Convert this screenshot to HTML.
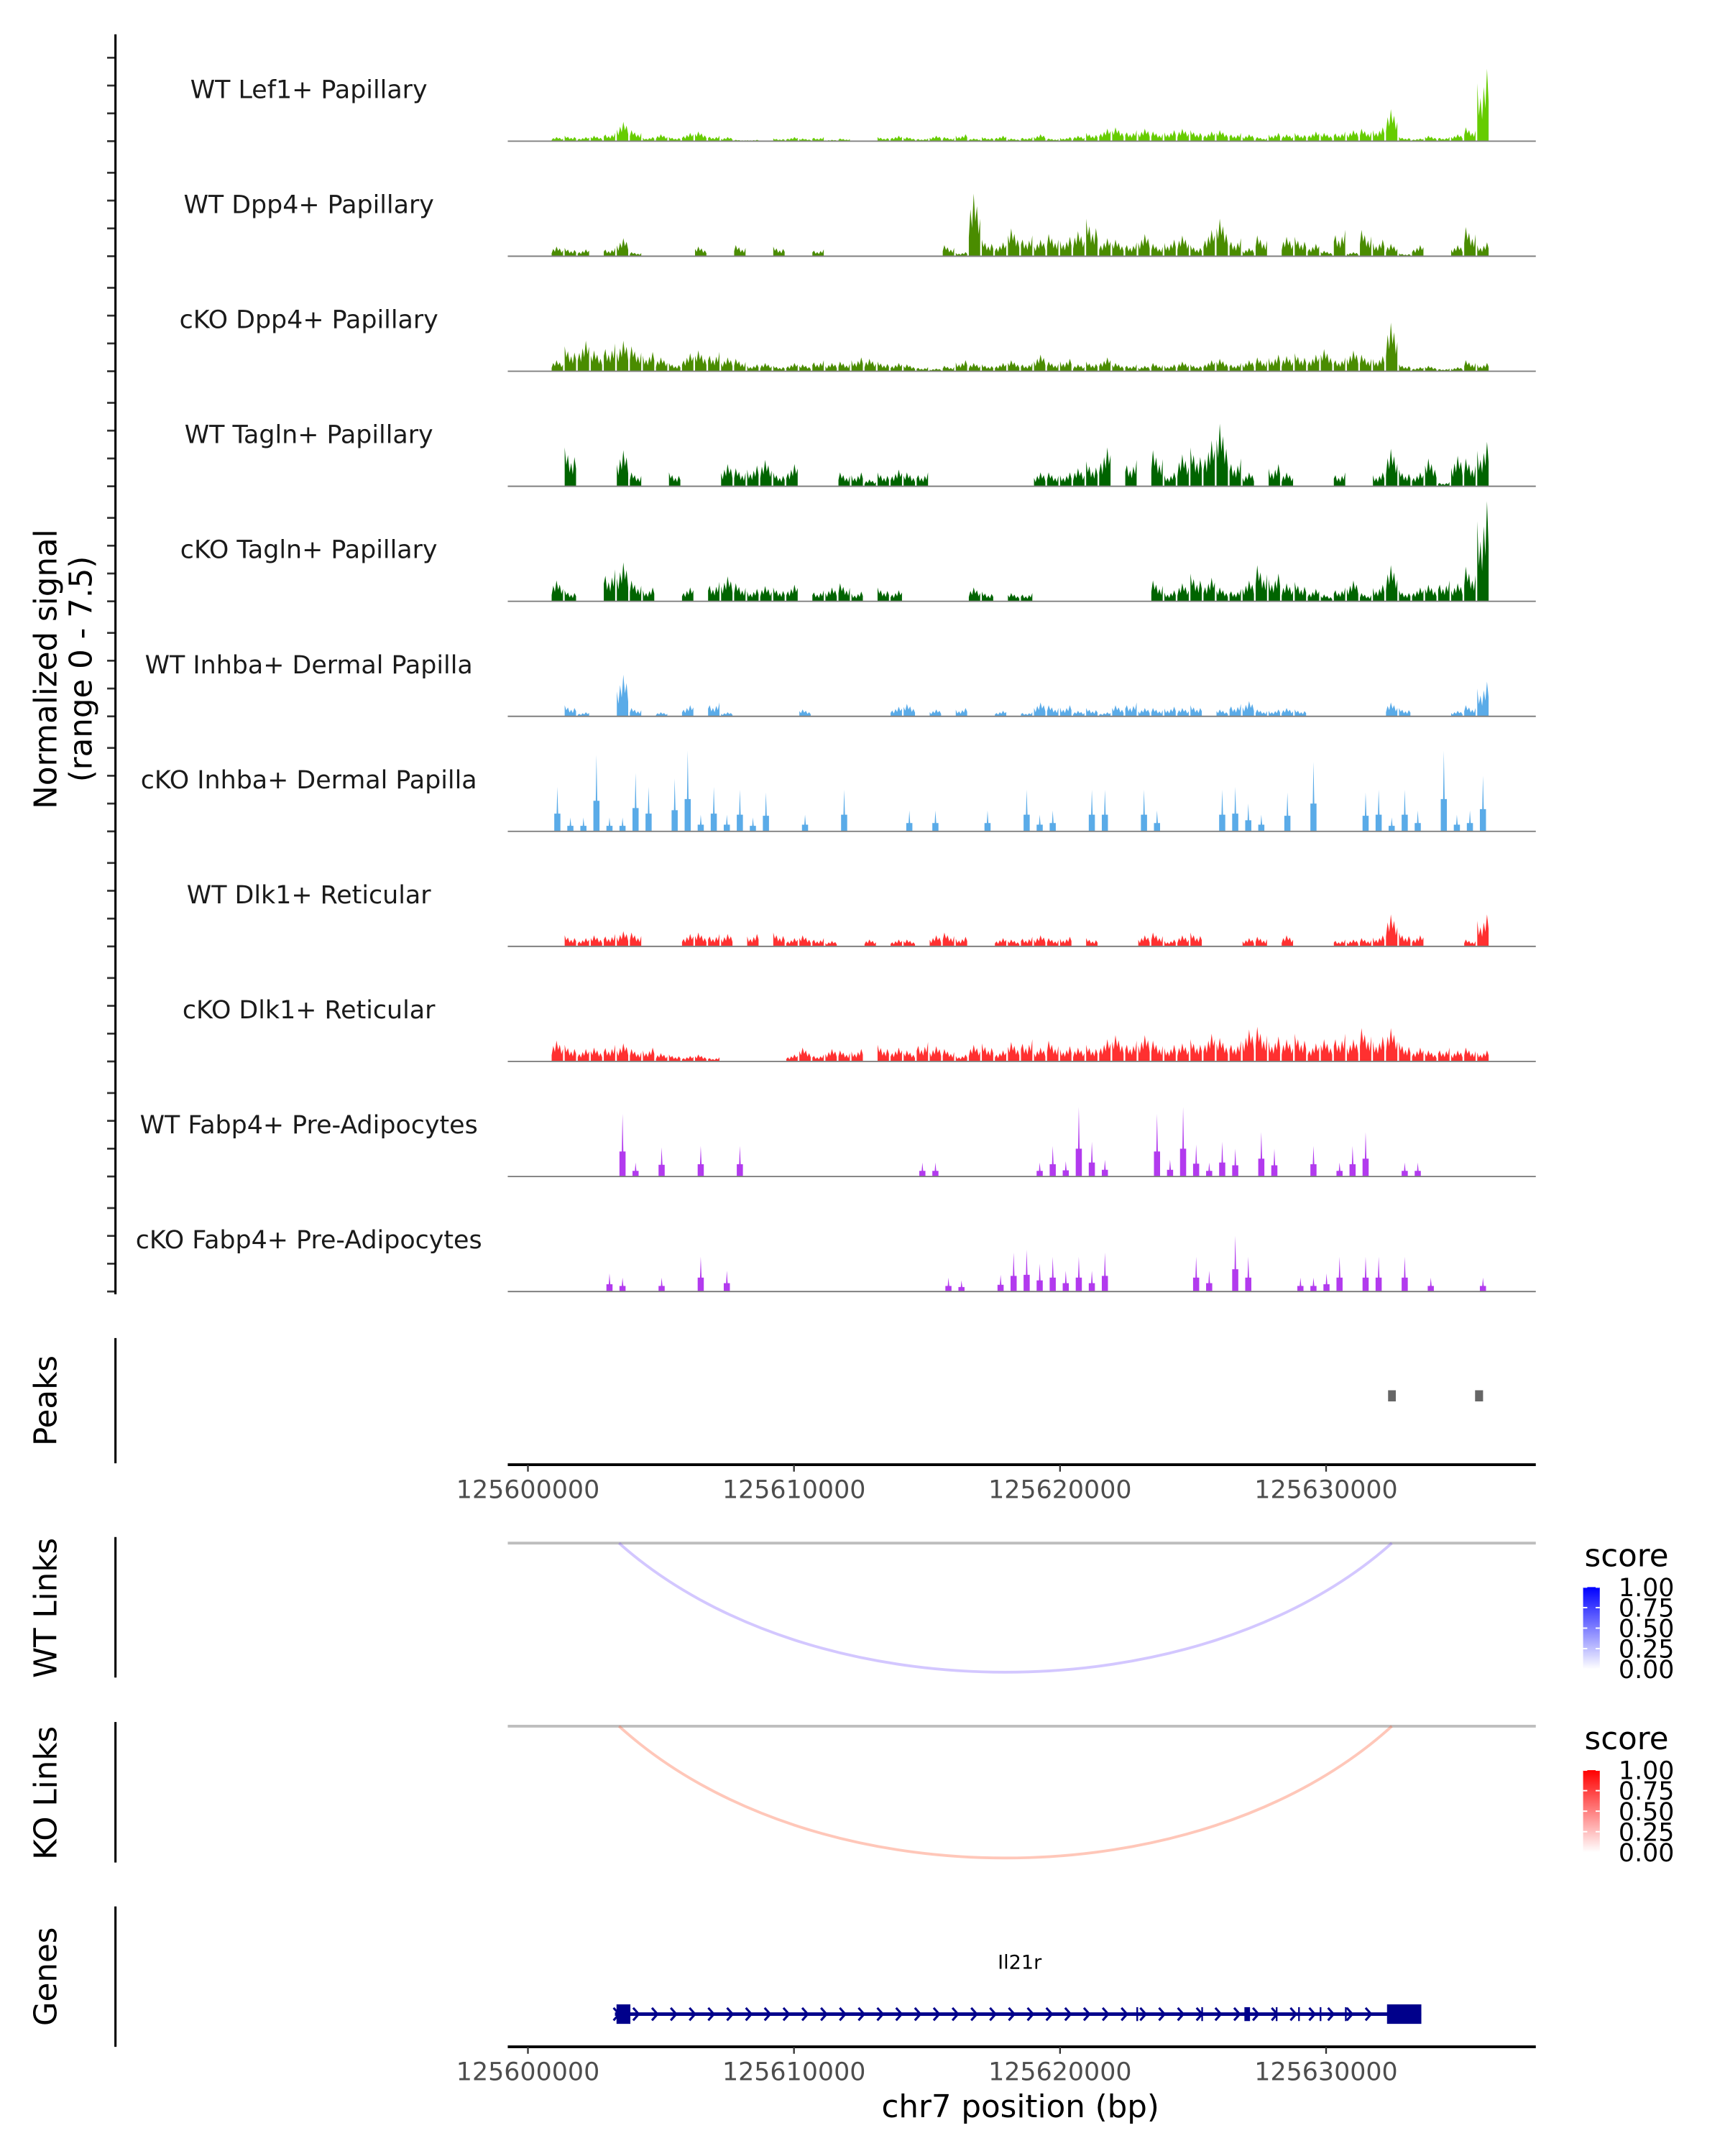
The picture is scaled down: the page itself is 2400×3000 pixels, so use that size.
<!DOCTYPE html>
<html><head><meta charset="utf-8"><style>
html,body{margin:0;padding:0;background:#fff}
svg{display:block}
text{font-family:"DejaVu Sans","Liberation Sans",sans-serif}
</style></head><body>
<svg id="fig" width="2400" height="3000" viewBox="0 0 1240 1550" xmlns="http://www.w3.org/2000/svg">
<defs>
<linearGradient id="gblue" x1="0" y1="1" x2="0" y2="0"><stop offset="0" stop-color="#ffffff"/><stop offset="1" stop-color="#0000ff"/></linearGradient>
<linearGradient id="gred" x1="0" y1="1" x2="0" y2="0"><stop offset="0" stop-color="#ffffff"/><stop offset="1" stop-color="#ff0000"/></linearGradient>
</defs>
<g id="tracks"></g>
<g id="static">
<text transform="translate(40.5,481) rotate(-90)" text-anchor="middle" font-size="22.5" fill="#000">Normalized signal</text>
<text transform="translate(66,481) rotate(-90)" text-anchor="middle" font-size="22.5" fill="#000">(range 0 - 7.5)</text>
<line x1="83" y1="24.7" x2="83" y2="930.5" stroke="#000" stroke-width="1.6"/>
<text transform="translate(40.5,1007) rotate(-90)" text-anchor="middle" font-size="22.5">Peaks</text>
<line x1="83" y1="962" x2="83" y2="1052" stroke="#000" stroke-width="1.6"/>
<text transform="translate(40.5,1156) rotate(-90)" text-anchor="middle" font-size="22.5">WT Links</text>
<line x1="83" y1="1105" x2="83" y2="1206" stroke="#000" stroke-width="1.6"/>
<text transform="translate(40.5,1289) rotate(-90)" text-anchor="middle" font-size="22.5">KO Links</text>
<line x1="83" y1="1238" x2="83" y2="1339" stroke="#000" stroke-width="1.6"/>
<text transform="translate(40.5,1421) rotate(-90)" text-anchor="middle" font-size="22.5">Genes</text>
<line x1="83" y1="1370.6" x2="83" y2="1471.5" stroke="#000" stroke-width="1.6"/>
<line x1="365" y1="1109.4" x2="1104" y2="1109.4" stroke="#bebebe" stroke-width="2"/>
<line x1="365" y1="1241" x2="1104" y2="1241" stroke="#bebebe" stroke-width="2"/>
<text x="1139" y="1126" font-size="22.5">score</text>
<rect x="1138" y="1141" width="12" height="59" fill="url(#gblue)"/>
<text x="1139" y="1257.6" font-size="22.5">score</text>
<rect x="1138" y="1272.6" width="12" height="59" fill="url(#gred)"/>
<text x="733" y="1415.5" text-anchor="middle" font-size="14">Il21r</text>
<text x="733.5" y="1522" text-anchor="middle" font-size="22.5">chr7 position (bp)</text>
</g>
</svg>
<script>
const trackNames = ["WT Lef1+ Papillary","WT Dpp4+ Papillary","cKO Dpp4+ Papillary","WT Tagln+ Papillary","cKO Tagln+ Papillary","WT Inhba+ Dermal Papilla","cKO Inhba+ Dermal Papilla","WT Dlk1+ Reticular","cKO Dlk1+ Reticular","WT Fabp4+ Pre-Adipocytes","cKO Fabp4+ Pre-Adipocytes"];
const trackColors = ["#66cc00","#4a8c00","#4a8c00","#006400","#006400","#5aabe8","#5aabe8","#ff3030","#ff3030","#b23aee","#b23aee"];
const binStart = 125600860;
const binSize = 490;
const yTickValues = [0,2,4,6];
const sigLef1 = [0.3,0.4,0.3,0.4,0.6,1.4,0.8,0.3,0.5,0.3,0.6,0.7,0.4,0.3,0.1,0.1,0,0.2,0.3,0.2,0.3,0.1,0.2,0,0,0.3,0.4,0.3,0.2,0.4,0.3,0.5,0.2,0.3,0.4,0.2,0.3,0.5,0.2,0.3,0.4,0.6,0.9,1.0,0.8,0.9,0.7,0.8,0.9,0.8,0.7,0.8,0.6,0.5,0.3,0.6,0.5,0.6,0.7,0.6,0.7,0.8,0.9,1.0,2.3,0.3,0.2,0.4,0.3,0.5,1.0,5.2];
const sigWtDpp4 = [0.7,0.6,0.5,0,0.6,1.3,0.3,0,0,0,0,0.7,0,0,0.8,0,0,0.7,0,0,0.5,0,0,0,0,0,0,0,0,0,0.8,0.3,4.5,1.2,1.0,2.0,1.5,1.2,1.6,1.4,1.8,2.7,1.3,1.2,1.0,1.6,0.9,1.2,1.5,0.8,1.9,2.7,1.3,0.6,1.5,0,1.4,1.4,0.9,0.4,1.9,0.3,1.9,1.2,0.9,0.2,0.8,0,0,0.8,2.1,1.0];
const sigKoDpp4 = [0.8,1.8,2.2,1.5,2.0,2.2,1.8,1.4,1.0,0.6,1.3,1.5,1.4,1.0,0.9,0.5,0.6,0.4,0.6,0.5,0.8,0.6,0.7,1.0,0.9,0.7,0.6,0.5,0.3,0.2,0.4,0.8,0.6,0.5,0.6,0.8,0.6,1.2,0.7,0.9,0.5,0.7,1.0,0.6,0.5,0.4,0.6,0.5,0.7,0.5,0.8,0.9,0.6,0.8,1.0,1.2,1.1,1.3,1.2,1.6,1.0,1.5,1.2,1.1,3.5,0.5,0.3,0.4,0.2,0.3,0.8,0.6];
const sigWtTagln = [0,2.8,0,0,0,2.6,1.0,0,0,1.0,0,0,0,1.6,1.3,1.5,1.9,1.0,1.6,0,0,0,1.0,1.0,0.5,1.0,1.2,1.0,1.0,0,0,0,0,0,0,0,0,1.0,1.0,1.0,1.3,1.8,2.8,0,1.9,0,2.6,1.0,2.3,2.8,3.3,4.5,2.0,1.0,0,1.6,1.0,0,0,0,1.0,0,0,1.0,2.7,1.2,1.0,2.0,0.3,2.2,2.0,3.2];
const sigKoTagln = [1.5,0.8,0,0,2.3,2.8,1.5,1.0,0,0,1.0,0,1.4,1.8,1.3,0.9,1.1,1.0,1.2,0,0.8,1.0,1.3,0.7,0,1.0,0.8,0,0,0,0,0,1.0,0.7,0,0.6,0.6,0,0,0,0,0,0,0,0,0,1.5,0.8,1.3,2.0,1.7,1.0,0.9,1.5,2.6,2.0,1.3,1.4,0.9,0.5,1.0,1.5,0.6,1.2,2.6,0.8,1.0,1.2,1.5,1.3,2.5,7.2];
const sigWtInhba = [0,0.8,0.3,0,0,3.0,0.6,0,0.3,0,0.8,0,1.0,0.3,0,0,0,0,0,0.5,0,0,0,0,0,0,0.7,0.9,0,0.5,0,0.6,0,0,0.4,0,0.3,1.0,0.8,0.8,0.4,0.6,0.3,0.8,1.0,0.6,0.6,0.7,0.6,0.8,0,0.5,0.9,1.1,0.5,0.5,0.6,0.5,0,0,0,0,0,0,1.0,0.6,0,0,0,0.4,0.8,2.5];
const sigKoInhba = [3.2,1.0,1.0,5.5,1.0,1.0,4.2,3.2,0,3.8,5.8,1.2,3.2,1.2,3.0,1.0,2.8,0,0,1.2,0,0,3.0,0,0,0,0,1.5,0,1.5,0,0,0,1.5,0,0,3.0,1.2,1.5,0,0,3.0,3.0,0,0,3.0,1.5,0,0,0,0,3.0,3.2,2.0,1.2,0,2.8,0,5.0,0,0,0,2.8,3.0,1.0,3.0,1.5,0,5.8,1.2,1.5,4.0];
const sigWtDlk1 = [0,0.8,0.6,0.8,0.9,1.1,1.0,0,0,0,0.9,1.0,0.9,0.9,0,0.9,0,1.0,0.6,0.8,0.6,0.4,0,0,0.5,0,0.5,0.5,0,0.8,1.0,0.7,0,0,0.6,0.5,0.7,0.8,0.6,0.7,0,0.6,0,0,0,0.8,1.0,0.5,0.8,1.0,0,0,0,0.6,0.7,0,0.8,0,0,0,0.5,0.5,0.6,0.8,2.3,1.0,0.8,0,0,0,0.5,2.3];
const sigKoDlk1 = [1.5,1.2,0.9,1.0,1.2,1.3,0.9,1.0,0.6,0.5,0.4,0.5,0.3,0,0,0,0,0,0.5,1.0,0.5,0.9,0.8,0.9,0,1.2,1.0,0.8,1.4,1.1,0.9,0.5,1.2,1.3,0.8,1.4,1.6,1.0,1.5,1.1,1.0,1.2,1.6,1.9,1.5,1.9,1.5,1.2,1.3,1.6,2.0,1.7,1.5,2.3,2.5,1.8,1.6,2.0,1.3,1.6,2.0,1.6,2.4,1.8,2.4,1.4,1.0,0.8,1.0,0.8,1.0,0.8];
const sigWtFabp4 = [0,0,0,0,0,4.5,1.0,0,2.1,0,0,2.2,0,0,2.2,0,0,0,0,0,0,0,0,0,0,0,0,0,1.0,1.0,0,0,0,0,0,0,0,1.0,2.2,1.1,5.0,2.5,1.2,0,0,0,4.5,1.2,5.0,2.3,1.0,2.5,2.0,0,3.2,2.0,0,0,2.2,0,1.0,2.2,3.2,0,0,1.0,1.0,0,0,0,0,0];
const sigKoFabp4 = [0,0,0,0,1.3,1.0,0,0,1.0,0,0,2.5,0,1.5,0,0,0,0,0,0,0,0,0,0,0,0,0,0,0,0,1.0,0.8,0,0,1.2,2.8,3.0,2.0,2.5,1.5,2.5,1.5,2.8,0,0,0,0,0,0,2.5,1.5,0,4.0,2.5,0,0,0,1.0,1.0,1.3,2.5,0,2.5,2.5,0,2.5,0,1.0,0,0,0,1.0];
const allSignals = [sigLef1,sigWtDpp4,sigKoDpp4,sigWtTagln,sigKoTagln,sigWtInhba,sigKoInhba,sigWtDlk1,sigKoDlk1,sigWtFabp4,sigKoFabp4];
const xTicks = [125600000,125610000,125620000,125630000];
const xTickLabels = ["125600000","125610000","125620000","125630000"];
const peakStarts = [125632330,125635600];
const peakEnds = [125632620,125635900];
const wtLinkStart = [125603425];
const wtLinkEnd = [125632470];
const wtLinkScore = [0.18];
const koLinkStart = [125603425];
const koLinkEnd = [125632470];
const koLinkScore = [0.22];
const legendTicks = [1.00,0.75,0.50,0.25,0.00];
const legendLabels = ["1.00","0.75","0.50","0.25","0.00"];
const geneStart = 125603270;
const geneEnd = 125633580;
const exonStarts = [125603330,125622870,125625310,125626930,125628110,125628950,125629760,125630710,125632290];
const exonEnds = [125603850,125622920,125625360,125627140,125628160,125629000,125629810,125630760,125633580];

const NS="http://www.w3.org/2000/svg";
const svg=document.getElementById('fig');
const tg=document.getElementById('tracks');
function xs(bp){return 379.5+(bp-125600000)*0.019125;}
const pxPerUnit=10, baseline0=101.5, trackGap=82.7;
function ys(v,base){return base-v*pxPerUnit;}
function mk(tag,attrs,parent){const e=document.createElementNS(NS,tag);for(const k in attrs)e.setAttribute(k,attrs[k]);(parent||svg).appendChild(e);return e;}
const jag=[0.3,0.75,0.45,1,0.55,0.8,0.35,0.6];
const narrowTracks=[6,9,10];

allSignals.forEach((vals,ti)=>{
  const base=baseline0+ti*trackGap;
  const g=mk('g',{},tg);
  
  
  yTickValues.forEach(v=>{
    const y=ys(v,base);
    const t=mk('line',{x1:77,x2:83,y1:y,y2:y,stroke:'#333','stroke-width':1.4},g);
    
    
  });
  const lab=mk('text',{x:222,y:base-31,'text-anchor':'middle','font-size':18,fill:'#1a1a1a'},g);
  lab.textContent=trackNames[ti];
  
  
  const narrow=narrowTracks.includes(ti);
  let d='';
  vals.forEach((v,i)=>{
    if(v<=0)return;
    let x0=xs(binStart+i*binSize), x1=xs(binStart+(i+1)*binSize);
    if(narrow){const c=(x0+x1)/2;x0=c-2.2;x1=c+2.2;
      d+=`M${x0},${base}L${x0},${ys(v*0.4,base)}L${c-0.5},${ys(v*0.4,base)}L${c},${ys(v,base)}L${c+0.6},${ys(v*0.4,base)}L${x1},${ys(v*0.4,base)}L${x1},${base}Z`;
      return;}
    x0+=0.6;x1-=0.6;
    const n=jag.length, w=(x1-x0)/(n-1);
    d+=`M${x0},${base}`;
    for(let k=0;k<n;k++){
      const f=jag[(k+i*3)%n];
      d+=`L${x0+k*w},${ys(v*f,base)}`;
    }
    d+=`L${x1},${base}Z`;
  });
  const p=mk('path',{d:d,fill:trackColors[ti]},g);
  
  
  const bl=mk('line',{x1:365,x2:1104,y1:base,y2:base,stroke:'#808080','stroke-width':1},g);
  
  
});

peakStarts.forEach((s,i)=>{
  const r=mk('rect',{x:xs(s),y:999.5,width:Math.max(3,xs(peakEnds[i])-xs(s)),height:8,fill:'#666'});
  
  
});

function xAxis(y,name){
  const g=mk('g',{});
  
  
  mk('line',{x1:365,x2:1104,y1:y,y2:y,stroke:'#000','stroke-width':2},g);
  xTicks.forEach((t,i)=>{
    const x=xs(t);
    mk('line',{x1:x,x2:x,y1:y,y2:y+5,stroke:'#333','stroke-width':1.2},g);
    const tx=mk('text',{x:x,y:y+24,'text-anchor':'middle','font-size':18,fill:'#4d4d4d'},g);
    tx.textContent=xTickLabels[i];
    
    
  });
}
xAxis(1053,'peaks-x-axis');
xAxis(1471.5,'genes-x-axis');

function links(starts,ends,scores,top,depth,rgb){
  starts.forEach((s,i)=>{
    const x0=xs(s),x1=xs(ends[i]);
    const a=scores[i]*1.0+0.12;
    const p=mk('path',{d:`M${x0},${top}C${x0+(x1-x0)*0.25},${top+depth*1.33} ${x1-(x1-x0)*0.25},${top+depth*1.33} ${x1},${top}`,fill:'none',stroke:`rgba(${rgb},${a})`,'stroke-width':2});
    
    
  });
}
links(wtLinkStart,wtLinkEnd,wtLinkScore,1109.4,93,'110,70,255');
links(koLinkStart,koLinkEnd,koLinkScore,1241,95,'255,90,50');

function legend(top,name){
  legendTicks.forEach((v,i)=>{
    const y=top+(1-v)*59;
    mk('line',{x1:1138,x2:1141,y1:y,y2:y,stroke:'#fff','stroke-width':1});
    mk('line',{x1:1147,x2:1150,y1:y,y2:y,stroke:'#fff','stroke-width':1});
    const t=mk('text',{x:1163.5,y:y+6.5,'font-size':18,fill:'#000'});
    t.textContent=legendLabels[i];
    
    
  });
}
legend(1141,'wt-legend');
legend(1272.6,'ko-legend');

const gg=mk('g',{});


const gy=1448;
mk('line',{x1:xs(geneStart),x2:xs(geneEnd),y1:gy,y2:gy,stroke:'#00008b','stroke-width':2.5},gg);
for(let x=xs(exonEnds[0])+4;x<xs(exonStarts[exonStarts.length-1])-3;x+=13.5){
  mk('path',{d:`M${x-2},${gy-4.5}L${x+2},${gy}L${x-2},${gy+4.5}`,fill:'none',stroke:'#00008b','stroke-width':1.6},gg);
}
mk('path',{d:`M${xs(geneStart)-1},${gy-4.5}L${xs(geneStart)+3},${gy}L${xs(geneStart)-1},${gy+4.5}`,fill:'none',stroke:'#00008b','stroke-width':1.6},gg);
exonStarts.forEach((s,i)=>{
  const x0=xs(s),x1=xs(exonEnds[i]);
  const big=(x1-x0)>15;
  const h=(big||i===0)?14:10;
  mk('rect',{x:x0,y:gy-h/2,width:Math.max(1.2,x1-x0),height:h,fill:'#00008b'},gg);
});
</script>
</body></html>
